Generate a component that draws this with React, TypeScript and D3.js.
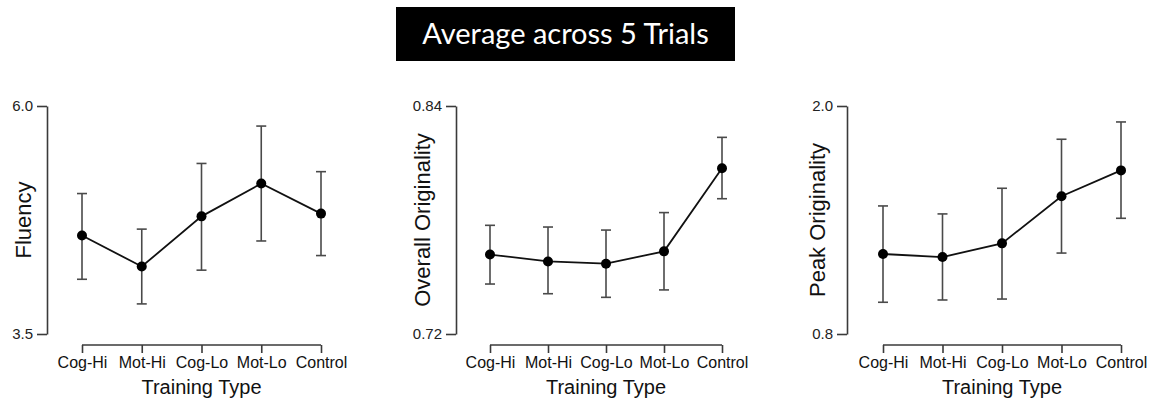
import React, { useEffect, useRef } from 'react';
import * as d3 from 'd3';

// training groups on the x axis
const categories = ['Cog-Hi', 'Mot-Hi', 'Cog-Lo', 'Mot-Lo', 'Control'];

// Fluency
const fluencyMean = [4.58, 4.24, 4.79, 5.15, 4.82];
const fluencyUpper = [5.04, 4.65, 5.37, 5.78, 5.28];
const fluencyLower = [4.10, 3.83, 4.20, 4.52, 4.36];

// Overall originality
const overallMean = [0.7618, 0.7582, 0.757, 0.7635, 0.8072];
const overallUpper = [0.7772, 0.7763, 0.7747, 0.7839, 0.8235];
const overallLower = [0.7463, 0.7412, 0.7393, 0.7432, 0.7912];

// Peak originality
const peakMean = [1.221, 1.205, 1.277, 1.525, 1.661];
const peakUpper = [1.474, 1.432, 1.567, 1.825, 1.916];
const peakLower = [0.967, 0.979, 0.984, 1.226, 1.409];

const W = 1149;
const H = 398;

const panels = [
  { title: 'Fluency', domain: [3.5, 6.0], fmt: '.1f', mean: fluencyMean, upper: fluencyUpper, lower: fluencyLower, axisX: 47, x0: 82, x1: 321, titleX: 23 },
  { title: 'Overall Originality', domain: [0.72, 0.84], fmt: '.2f', mean: overallMean, upper: overallUpper, lower: overallLower, axisX: 456, x0: 490, x1: 722, titleX: 422 },
  { title: 'Peak Originality', domain: [0.8, 2.0], fmt: '.1f', mean: peakMean, upper: peakUpper, lower: peakLower, axisX: 847, x0: 883, x1: 1121, titleX: 817 },
];

const App = () => {
  const svgRef = useRef<SVGSVGElement>(null);

  useEffect(() => {
    if (!svgRef.current) return;
    const svg = d3.select(svgRef.current);
    svg.selectAll('*').remove();

    svg.append('rect').attr('width', W).attr('height', H).attr('fill', 'white');

    // title box
    svg.append('rect')
      .attr('x', 396).attr('y', 7).attr('width', 339).attr('height', 54)
      .attr('fill', '#000');
    svg.append('text')
      .attr('x', 565.5).attr('y', 44)
      .attr('text-anchor', 'middle')
      .attr('fill', 'white')
      .style('font-family', 'Lato, "Open Sans", sans-serif')
      .style('font-size', '29px')
      .text('Average across 5 Trials');

    const yTop = 106;
    const yBottom = 334;
    const xAxisY = 345;
    const axisColor = '#3a3a3a';

    panels.forEach((p) => {
      const g = svg.append('g');
      const y = d3.scaleLinear().domain(p.domain).range([yBottom, yTop]);
      const x = d3.scalePoint().domain(categories).range([p.x0, p.x1]);

      // y axis
      const yAxis = g.append('g')
        .attr('transform', `translate(${p.axisX},0)`)
        .call(d3.axisLeft(y).tickValues(p.domain).tickFormat(d3.format(p.fmt)).tickSize(10).tickSizeOuter(0));
      yAxis.select('.domain').attr('stroke', axisColor).attr('stroke-width', 1.6);
      yAxis.selectAll('.tick line').attr('stroke', axisColor).attr('stroke-width', 1.6);
      yAxis.selectAll('.tick text')
        .attr('x', -14)
        .attr('fill', '#222')
        .style('font-family', '"Liberation Sans", Arial, sans-serif')
        .style('font-size', '15px');

      // x axis
      const xAxis = g.append('g')
        .attr('transform', `translate(0,${xAxisY})`)
        .call(d3.axisBottom(x).tickSize(8).tickSizeOuter(0));
      xAxis.select('.domain').attr('stroke', axisColor).attr('stroke-width', 1.6)
        .attr('d', `M${p.x0},0H${p.x1}`);
      xAxis.selectAll('.tick line').attr('stroke', axisColor).attr('stroke-width', 1.6);
      xAxis.selectAll('.tick text')
        .attr('y', 12)
        .attr('fill', '#111')
        .style('font-family', '"Liberation Sans", Arial, sans-serif')
        .style('font-size', '16px');

      // axis titles
      g.append('text')
        .attr('x', (p.x0 + p.x1) / 2).attr('y', 394)
        .attr('text-anchor', 'middle')
        .attr('fill', '#111')
        .style('font-family', '"Liberation Sans", Arial, sans-serif')
        .style('font-size', '20px')
        .text('Training Type');
      g.append('text')
        .attr('transform', `translate(${p.titleX + 8},${(yTop + yBottom) / 2}) rotate(-90)`)
        .attr('text-anchor', 'middle')
        .attr('fill', '#111')
        .style('font-family', '"Liberation Sans", Arial, sans-serif')
        .style('font-size', '22px')
        .text(p.title);

      // error bars
      const capW = 5;
      categories.forEach((c, i) => {
        const cx = x(c) as number;
        const eb = g.append('g').attr('stroke', '#4a4a4a').attr('stroke-width', 1.6);
        eb.append('line').attr('x1', cx).attr('x2', cx).attr('y1', y(p.upper[i])).attr('y2', y(p.lower[i]));
        eb.append('line').attr('x1', cx - capW).attr('x2', cx + capW).attr('y1', y(p.upper[i])).attr('y2', y(p.upper[i]));
        eb.append('line').attr('x1', cx - capW).attr('x2', cx + capW).attr('y1', y(p.lower[i])).attr('y2', y(p.lower[i]));
      });

      // mean line
      const line = d3.line<number>()
        .x((_, i) => x(categories[i]) as number)
        .y((d) => y(d));
      g.append('path')
        .datum(p.mean)
        .attr('d', line)
        .attr('fill', 'none')
        .attr('stroke', '#111')
        .attr('stroke-width', 1.8);

      g.selectAll('circle.pt')
        .data(p.mean)
        .join('circle')
        .attr('class', 'pt')
        .attr('cx', (_, i) => x(categories[i]) as number)
        .attr('cy', (d) => y(d))
        .attr('r', 5)
        .attr('fill', '#000');
    });
  }, []);

  return (
    <div style={{ position: 'absolute', left: 0, top: 0 }}>
      <svg ref={svgRef} width={W} height={H} style={{ display: 'block' }} />
    </div>
  );
};

export default App;
